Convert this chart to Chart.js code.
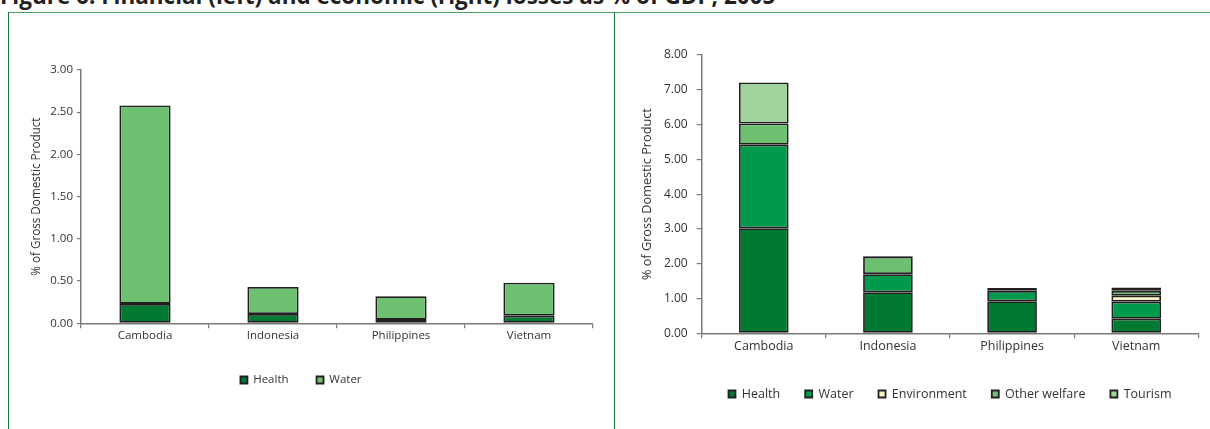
<!DOCTYPE html>
<html>
<head>
<meta charset="utf-8">
<script src="https://cdn.jsdelivr.net/npm/chart.js@4.4.1/dist/chart.umd.min.js"></script>
<style>
  html, body { margin: 0; padding: 0; background: #ffffff; }
  body { position: relative; width: 1210px; height: 429px; overflow: hidden; font-family: 'Open Sans', sans-serif; }
  #title { position: absolute; left: 0; top: -15px; font: bold 22.5px/22.5px 'Open Sans', sans-serif; color: #231f20; white-space: nowrap; }
  .rule-top { position: absolute; left: 8px; top: 12px; width: 1202px; height: 0; border-top: 1.5px solid #4a9e62; }
  .rule-side { position: absolute; top: 12px; bottom: 0; width: 0; border-left: 1.5px solid #14783c; }
  .panel { position: absolute; top: 14px; }
  canvas { display: block; }
</style>
</head>
<body>
<div id="title">Figure 6: Financial (left) and economic (right) losses as % of GDP, 2005</div>
<div class="rule-top"></div>
<div class="rule-side" style="left:8px"></div>
<div class="rule-side" style="left:614px"></div>
<div class="panel" style="left:9px"><canvas id="financial" width="605" height="415"></canvas></div>
<div class="panel" style="left:615px"><canvas id="economic" width="595" height="415"></canvas></div>
<script>
// Countries on the category axis
const countries = ['Cambodia', 'Indonesia', 'Philippines', 'Vietnam'];

// Financial losses, % of GDP
const financialHealth = [0.23, 0.11, 0.04, 0.09];
const financialWater  = [2.35, 0.32, 0.28, 0.39];

// Economic losses, % of GDP
const economicHealth       = [3.02, 1.18, 0.92, 0.42];
const economicWater        = [2.40, 0.52, 0.30, 0.49];
const economicEnvironment  = [0.00, 0.00, 0.00, 0.17];
const economicOtherWelfare = [0.61, 0.50, 0.05, 0.14];
const economicTourism      = [1.18, 0.02, 0.03, 0.10];

// Value-axis tick positions
const financialTicks = [0, 0.5, 1, 1.5, 2, 2.5, 3];
const economicTicks  = [0, 1, 2, 3, 4, 5, 6, 7, 8];

const FONT = "'Open Sans', sans-serif";
const TEXT = '#333333';
const AXIS = '#7a7a7a';
const OUTLINE = '#231f20';

const GREEN_DARK  = '#007a33';
const GREEN_MID   = '#009a4c';
const CREAM       = '#fff7c4';
const GREEN_LIGHT = '#6cc070';
const GREEN_PALE  = '#a1d49c';

function barSet(label, data, color) {
  return {
    label, data,
    backgroundColor: color,
    borderColor: OUTLINE,
    borderWidth: 1.8,
    borderSkipped: false,
    barPercentage: 0.4,
    categoryPercentage: 1.0
  };
}

function buildOptions(cfg) {
  return {
    responsive: false,
    animation: false,
    events: [],
    layout: { padding: cfg.padding },
    plugins: {
      tooltip: { enabled: false },
      legend: {
        position: 'bottom',
        fullSize: cfg.legendFull,
        labels: {
          boxWidth: 7, boxHeight: 7,
          padding: cfg.legendGap,
          color: TEXT,
          font: { family: FONT, size: cfg.legendSize }
        }
      }
    },
    scales: {
      x: {
        stacked: true,
        afterFit: s => { s.height = cfg.xHeight; },
        grid: { offset: true, drawOnChartArea: false, drawTicks: true, tickLength: 5, color: AXIS, lineWidth: 1.2 },
        border: { color: AXIS, width: 1.5 },
        ticks: { color: TEXT, font: { family: FONT, size: cfg.xSize }, padding: 1, maxRotation: 0 }
      },
      y: {
        stacked: true,
        min: cfg.ticks[0],
        max: cfg.ticks[cfg.ticks.length - 1],
        afterFit: s => { s.width = cfg.yWidth; },
        afterBuildTicks: s => { s.ticks = cfg.ticks.map(v => ({ value: v })); },
        grid: { drawOnChartArea: false, drawTicks: true, tickLength: cfg.yTickLen, color: AXIS, lineWidth: 1.2 },
        border: { color: AXIS, width: 1.5 },
        ticks: { color: TEXT, font: { family: FONT, size: cfg.ySize }, padding: cfg.yTickPad, callback: v => Number(v).toFixed(2) },
        title: {
          display: true,
          text: '% of Gross Domestic Product',
          color: TEXT,
          font: { family: FONT, size: cfg.titleSize },
          padding: { top: cfg.titlePad, bottom: 0 }
        }
      }
    }
  };
}

new Chart(document.getElementById('financial'), {
  type: 'bar',
  data: {
    labels: countries,
    datasets: [
      barSet('Health', financialHealth, GREEN_DARK),
      barSet('Water', financialWater, GREEN_LIGHT)
    ]
  },
  options: buildOptions({
    padding: { left: 0, right: 21, top: 56, bottom: 33.25 },
    legendFull: true, legendGap: 28, legendSize: 11.5,
    xHeight: 22.95, xSize: 11.5,
    yWidth: 72, yTickLen: 4, yTickPad: 4, ySize: 11.5,
    titleSize: 11.7, titlePad: 21, ticks: financialTicks
  })
});

new Chart(document.getElementById('economic'), {
  type: 'bar',
  data: {
    labels: countries,
    datasets: [
      barSet('Health', economicHealth, GREEN_DARK),
      barSet('Water', economicWater, GREEN_MID),
      barSet('Environment', economicEnvironment, CREAM),
      barSet('Other welfare', economicOtherWelfare, GREEN_LIGHT),
      barSet('Tourism', economicTourism, GREEN_PALE)
    ]
  },
  options: buildOptions({
    padding: { left: 0, right: 11.7, top: 41, bottom: 18.75 },
    legendFull: false, legendGap: 25, legendSize: 12.5,
    xHeight: 29.45, xSize: 12.5,
    yWidth: 86.7, yTickLen: 5, yTickPad: 9, ySize: 12,
    titleSize: 12.7, titlePad: 24.7, ticks: economicTicks
  })
});
</script>
</body>
</html>
